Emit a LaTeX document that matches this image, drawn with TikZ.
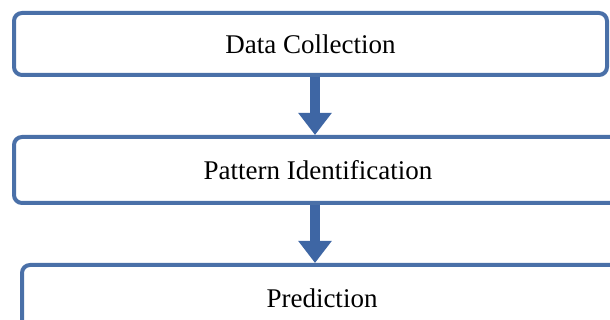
\documentclass[tikz,border=0pt]{standalone}
\usepackage{fontspec}
\setmainfont{Liberation Serif}
\usetikzlibrary{arrows.meta, positioning}
\definecolor{StepLine}{RGB}{74,112,168}
\definecolor{StepArrow}{RGB}{62,102,164}

\begin{document}
\begin{tikzpicture}[
    stage/.style={
        rectangle, rounded corners=8pt, draw=StepLine, line width=4pt,
        fill=white, minimum width=#1, minimum height=64pt,
        font=\fontsize{27}{32}\selectfont, inner sep=0pt
    },
    stage/.default={600pt},
    flow/.style={
        -{Triangle[length=22pt, width=32pt]}, line width=10pt, StepArrow
    },
    node distance=58pt
]

% Frame
\clip (0,0) rectangle (610pt,320pt);
\fill[white] (0,0) rectangle (610pt,320pt);

% Stages
\node[stage=593pt, minimum height=62pt] (collect) at (310.5pt,276pt)
    {Data Collection};
\node[stage=608pt, minimum height=66pt, below=of collect, xshift=7.5pt] (pattern)
    {Pattern Identification};
\node[stage=600pt, minimum height=66pt, below=of pattern, xshift=4pt] (predict)
    {Prediction};

% Arrows
\coordinate (spine) at (315pt,0);
\foreach \a/\b in {collect/pattern, pattern/predict} {
    \draw[flow] (\a.south -| spine) -- (\b.north -| spine);
}

\end{tikzpicture}
\end{document}
